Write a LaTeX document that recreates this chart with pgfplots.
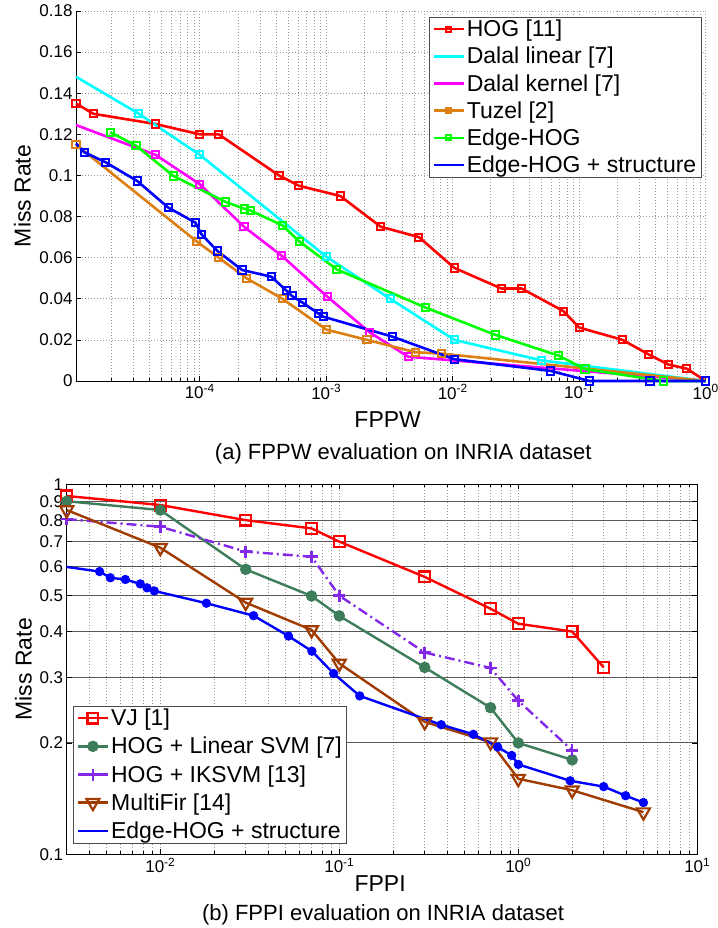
\documentclass[border=0pt]{standalone}
\usepackage{fontspec}
\setmainfont{Liberation Sans}
\usepackage{pgfplots}
\pgfplotsset{compat=1.18}

\definecolor{mred}{RGB}{255,0,0}
\definecolor{mcyan}{RGB}{0,255,255}
\definecolor{mmagenta}{RGB}{255,0,255}
\definecolor{mgreen}{RGB}{0,255,0}
\definecolor{mblue}{RGB}{0,0,255}
\definecolor{tuzel}{RGB}{220,128,20}
\definecolor{svmgreen}{RGB}{62,125,90}
\definecolor{iksvm}{RGB}{130,40,230}
\definecolor{multifir}{RGB}{160,60,0}

\pgfplotsset{
  common/.style={
    scale only axis,
    clip=false,
    tick align=inside,
    major tick length=5pt,
    minor tick length=3pt,
    tick style={black, line width=0.6pt},
    axis line style={black, line width=0.8pt},
    tick label style={font=\fontsize{17}{20}\selectfont},
    label style={font=\fontsize{23}{27}\selectfont},
    legend style={font=\fontsize{23}{27}\selectfont, draw=black!70, line width=0.8pt,
      fill=white, cells={anchor=west}, inner xsep=3pt, inner ysep=1pt, row sep=5pt},
  },
  lgtop/.style={legend image code/.code={
    \draw[##1] (0pt,0pt) -- (30pt,0pt);
    \draw[##1, mark size=2.4pt] plot coordinates {(15pt,0pt)};}},
  lgbot/.style={legend image code/.code={
    \draw[##1] (0pt,0pt) -- (30pt,0pt);
    \draw[##1] plot coordinates {(15pt,0pt)};}},
}

\begin{document}
\begin{tikzpicture}
\useasboundingbox (0pt,0pt) rectangle (717pt,928pt);

% (a) FPPW
\begin{axis}[
  common, lgtop,
  at={(76pt,547pt)}, anchor=south west,
  width=629.7pt, height=370pt,
  xmode=log, log basis x=10,
  xmin=1.05e-5, xmax=1, ymin=0, ymax=0.18,
  axis x line*=bottom, axis y line*=left,
  xtick={1e-4,1e-3,1e-2,1e-1,1},
  xticklabels={10\textsuperscript{-4},10\textsuperscript{-3},10\textsuperscript{-2},10\textsuperscript{-1},10\textsuperscript{0}},
  minor xtick={2e-5,3e-5,4e-5,5e-5,6e-5,7e-5,8e-5,9e-5,
    2e-4,3e-4,4e-4,5e-4,6e-4,7e-4,8e-4,9e-4,
    2e-3,3e-3,4e-3,5e-3,6e-3,7e-3,8e-3,9e-3,
    2e-2,3e-2,4e-2,5e-2,6e-2,7e-2,8e-2,9e-2,
    0.2,0.3,0.4,0.5,0.6,0.7,0.8,0.9},
  ytick={0,0.02,0.04,0.06,0.08,0.1,0.12,0.14,0.16,0.18},
  yticklabels={0,0.02,0.04,0.06,0.08,0.1,0.12,0.14,0.16,0.18},
  grid=both,
  major grid style={gray!80, line width=0.7pt, dash pattern=on 1pt off 2pt},
  minor grid style={gray!80, line width=0.7pt, dash pattern=on 1pt off 2pt},
  xlabel={FPPW}, ylabel={Miss Rate},
  xlabel style={at={(axis description cs:0.495,-0.125)}, anchor=base},
  ylabel style={at={(axis description cs:-0.072,0.5)}, anchor=base, rotate=0},
  legend style={at={(0.9936,0.9846)}, anchor=north east},
  every axis plot/.append style={line width=2.6pt, mark=square, mark size=3.6pt,
    mark options={solid, line width=2pt}},
]
\addplot[color=mred] coordinates {
  (1.05e-5,0.135) (1.44e-5,0.130) (4.48e-5,0.125) (1e-4,0.120) (1.41e-4,0.120)
  (4.23e-4,0.100) (6.07e-4,0.095) (1.29e-3,0.090) (2.7e-3,0.075) (5.4e-3,0.070)
  (1.03e-2,0.055) (2.42e-2,0.045) (3.5e-2,0.045) (7.5e-2,0.034) (0.1,0.026)
  (0.22,0.020) (0.352,0.013) (0.507,0.008) (0.708,0.006) (1,0)
};
\addlegendentry{HOG [11]}
\addplot[color=mcyan, mark indices={2,3,4,5,6,7}] coordinates {
  (1.05e-5,0.148) (3.3e-5,0.130) (1e-4,0.110) (1e-3,0.0605) (3.2e-3,0.040)
  (1.03e-2,0.020) (5.05e-2,0.010) (1,0)
};
\addlegendentry{Dalal linear [7]}
\addplot[color=mmagenta, mark indices={2,3,4,5,6,7,8,9}] coordinates {
  (1.05e-5,0.1245) (4.48e-5,0.110) (1e-4,0.0957) (2.24e-4,0.075) (4.43e-4,0.061)
  (1.02e-3,0.041) (2.2e-3,0.0237) (4.45e-3,0.0118) (1,0)
};
\addlegendentry{Dalal kernel [7]}
\addplot[color=tuzel] coordinates {
  (1.05e-5,0.115) (9.4e-5,0.068) (1.41e-4,0.060) (2.34e-4,0.050) (4.5e-4,0.040)
  (1e-3,0.025) (2.1e-3,0.020) (5.05e-3,0.014) (8.2e-3,0.0133) (1,0)
};
\addlegendentry{Tuzel [2]}
\addplot[color=mgreen] coordinates {
  (1.96e-5,0.121) (3.13e-5,0.1145) (6.2e-5,0.0997) (1.6e-4,0.0871) (2.27e-4,0.0837)
  (2.52e-4,0.0829) (4.5e-4,0.0757) (6.15e-4,0.0678) (1.21e-3,0.0543) (6.1e-3,0.0357)
  (2.18e-2,0.0224) (6.9e-2,0.0123) (0.111,0.0058) (0.463,0) (1,0)
};
\addlegendentry{Edge-HOG}
\addplot[color=mblue, mark indices={2,3,4,5,6,7,8,9,10,11,12,13,14,15,16,17,18,19,20,21}] coordinates {
  (1.05e-5,0.1156) (1.22e-5,0.1113) (1.8e-5,0.1064) (3.2e-5,0.0973) (5.65e-5,0.0843)
  (9.25e-5,0.077) (1.03e-4,0.0714) (1.38e-4,0.0632) (2.16e-4,0.054) (3.69e-4,0.0507)
  (4.85e-4,0.0439) (5.35e-4,0.0414) (6.5e-4,0.0381) (8.63e-4,0.0329) (9.45e-4,0.0313)
  (3.32e-3,0.0216) (1.03e-2,0.0106) (5.96e-2,0.0049) (0.12,0) (0.363,0) (1,0)
};
\addlegendentry{Edge-HOG + structure}
\end{axis}

% (b) FPPI
\begin{axis}[
  common, lgbot,
  at={(66.7pt,73.7pt)}, anchor=south west,
  width=630.6pt, height=370pt,
  xmode=log, ymode=log, log basis x=10, log basis y=10,
  xmin=0.003, xmax=10, ymin=0.1, ymax=1,
  xtick={1e-2,1e-1,1,10},
  xticklabels={10\textsuperscript{-2},10\textsuperscript{-1},10\textsuperscript{0},10\textsuperscript{1}},
  minor xtick={4e-3,5e-3,6e-3,7e-3,8e-3,9e-3,
    2e-2,3e-2,4e-2,5e-2,6e-2,7e-2,8e-2,9e-2,
    0.2,0.3,0.4,0.5,0.6,0.7,0.8,0.9,
    2,3,4,5,6,7,8,9},
  ytick={0.1,0.2,0.3,0.4,0.5,0.6,0.7,0.8,0.9,1},
  yticklabels={0.1,0.2,0.3,0.4,0.5,0.6,0.7,0.8,0.9,1},
  xmajorgrids, xminorgrids, ymajorgrids,
  major x grid style={gray!80, line width=0.7pt, dash pattern=on 1pt off 2pt},
  minor x grid style={gray!80, line width=0.7pt, dash pattern=on 1pt off 2pt},
  major y grid style={black!65, line width=1pt},
  xlabel={FPPI}, ylabel={Miss Rate},
  xlabel style={at={(axis description cs:0.497,-0.101)}, anchor=base},
  ylabel style={at={(axis description cs:-0.0555,0.5)}, anchor=base, rotate=0},
  legend style={at={(0.0105,0.0297)}, anchor=south west, row sep=6pt},
  every axis plot/.append style={line width=2.4pt},
]
\addplot[color=mred, mark=square, mark size=5.4pt, mark options={solid, line width=2.2pt}] coordinates {
  (0.003,0.93) (0.01,0.879) (0.03,0.80) (0.07,0.76) (0.1,0.70) (0.3,0.562)
  (0.7,0.461) (1,0.42) (2,0.40) (3,0.32)
};
\addlegendentry{VJ [1]}
\addplot[color=svmgreen, mark=*, mark size=4.5pt, mark options={solid}] coordinates {
  (0.003,0.90) (0.01,0.852) (0.03,0.589) (0.07,0.499) (0.1,0.441) (0.3,0.32)
  (0.7,0.249) (1,0.20) (2,0.18)
};
\addlegendentry{HOG + Linear SVM [7]}
\addplot[color=iksvm, dash pattern=on 10pt off 4pt on 2pt off 4pt, mark=+, mark size=6pt,
  mark options={solid, line width=2.6pt}] coordinates {
  (0.003,0.805) (0.01,0.768) (0.03,0.658) (0.07,0.637) (0.1,0.50) (0.3,0.351)
  (0.7,0.319) (1,0.26) (2,0.191)
};
\addlegendentry{HOG + IKSVM [13]}
\addplot[color=multifir, mark=triangle, mark size=7.5pt, mark options={solid, rotate=180, line width=2.2pt}] coordinates {
  (0.003,0.852) (0.01,0.674) (0.03,0.479) (0.07,0.404) (0.1,0.328) (0.3,0.228)
  (0.7,0.201) (1,0.160) (2,0.149) (5,0.130)
};
\addlegendentry{MultiFir [14]}
\addplot[color=mblue, mark=*, mark size=3.4pt, mark options={solid},
  mark indices={2,3,4,5,6,7,8,9,10,11,12,13,14,15,16,17,18,19,20,21,22}] coordinates {
  (0.003,0.598) (4.58e-3,0.581) (5.26e-3,0.559) (6.38e-3,0.553) (7.73e-3,0.538)
  (8.43e-3,0.525) (9.26e-3,0.515) (1.81e-2,0.477) (3.32e-2,0.4415) (5.2e-2,0.389)
  (7.03e-2,0.354) (9.3e-2,0.308) (0.13,0.268) (0.371,0.224) (0.561,0.211)
  (0.767,0.195) (0.919,0.185) (1.0,0.175) (1.95,0.158) (3,0.1524) (3.98,0.144) (5,0.138)
};
\addlegendentry{Edge-HOG + structure}
\end{axis}

\node[anchor=base, font=\fontsize{22}{26}\selectfont] at (403.3pt,468.7pt) {(a) FPPW evaluation on INRIA dataset};
\node[anchor=base, font=\fontsize{22}{26}\selectfont] at (383pt,7pt) {(b) FPPI evaluation on INRIA dataset};
\end{tikzpicture}
\end{document}
